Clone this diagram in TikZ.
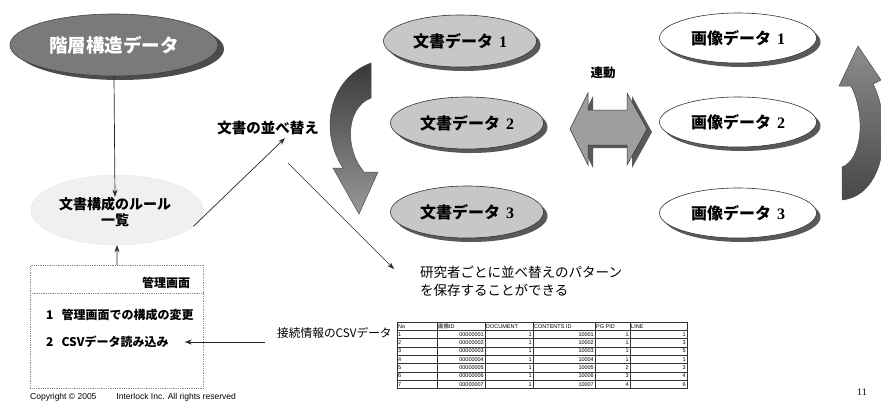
\documentclass[tikz,border=0pt]{standalone}
\usepackage{fontspec}
\setmainfont{Liberation Sans}
\newfontfamily\jp{Noto Sans CJK JP}
\newfontfamily\numfont{Liberation Serif}
\usetikzlibrary{arrows.meta,shapes.geometric,shadows}
\tikzset{
  arr/.style={-{Stealth[length=7pt,width=5pt]}, line width=0.7pt, black!85},
  shad/.style={drop shadow={shadow xshift=4pt, shadow yshift=-4pt, fill=black!65, opacity=1}},
  docell/.style={ellipse, draw=black!80, line width=0.6pt, fill=black!22, minimum width=153pt, minimum height=52pt, inner sep=0pt, shad, font=\jp\bfseries\fontsize{16}{18}\selectfont},
  imgell/.style={ellipse, draw=black!80, line width=0.6pt, fill=white, minimum width=157pt, minimum height=50pt, inner sep=0pt, shad, font=\jp\bfseries\fontsize{16}{18}\selectfont},
  lbl/.style={inner sep=0pt, font=\jp\fontsize{13}{16}\selectfont},
  tcell/.style={inner sep=1pt, font=\fontsize{5.5}{6}\selectfont}
}
\begin{document}
\begin{tikzpicture}[x=1pt,y=-1pt]
\useasboundingbox (0,0) rectangle (881,405);
\clip (0,0) rectangle (881,405);

% hierarchy ellipse
\node[ellipse, draw=black!75, line width=0.6pt, fill=black!52, minimum width=208pt, minimum height=62pt, inner sep=0pt, drop shadow={shadow xshift=6pt, shadow yshift=-4pt, fill=black!70, opacity=1}, text=white, font=\jp\bfseries\fontsize{18.5}{21}\selectfont] (hier) at (114,45) {階層構造データ};

% rule list (faint ellipse)
\node[ellipse, draw=black!20, densely dotted, fill=black!6, minimum width=172pt, minimum height=70pt, inner sep=0pt] (ruleell) at (117,210) {};
\node[lbl, align=center, font=\jp\bfseries\fontsize{14}{16.5}\selectfont] (ruletext) at (115,212) {文書構成のルール\\一覧};

% management box
\node[draw=black!45, densely dotted, line width=0.8pt, minimum width=173pt, minimum height=123pt, anchor=north west, inner sep=0pt] (mgmt) at (30,265) {};
\draw[black!45, densely dotted, line width=0.8pt] (mgmt.north west) ++(0,28) coordinate (hl) -- (hl -| mgmt.east);
\node[lbl, font=\jp\bfseries\fontsize{12}{14}\selectfont] (mgmttitle) at (166,283) {管理画面};
\node[lbl, anchor=west, font=\jp\bfseries\fontsize{12}{14}\selectfont] (item1) at (46,315) {1\hspace{8pt}管理画面での構成の変更};
\node[lbl, anchor=west, font=\jp\bfseries\fontsize{12}{14}\selectfont] (item2) at (46,342) {2\hspace{8pt}CSVデータ読み込み};

% connectors on the left
\draw[arr] (hier.south) -- (ruletext.north);
\draw[arr] (mgmt.north) -- (ruleell.south);

% sort label
\node[lbl, font=\jp\bfseries\fontsize{14.5}{16}\selectfont] (sort) at (268,128) {文書の並べ替え};
\draw[arr] (ruleell.-12) -- ([xshift=17pt,yshift=-3pt]sort.south);

% research text
\node[lbl, align=left, anchor=north west, font=\jp\fontsize{13.5}{18}\selectfont] (research) at (420,266) {研究者ごとに並べ替えのパターン\\を保存することができる};
\coordinate (resstart) at (288,163);
\draw[arr, line width=0.5pt] (resstart) -- ([xshift=-26pt,yshift=-3pt]research.north west);

% document data ellipses
\node[docell] (d1) at (460,41) {文書データ\hspace{6pt}{\numfont\bfseries 1}};
\node[docell] (d2) at (467,123) {文書データ\hspace{6pt}{\numfont\bfseries 2}};
\node[docell] (d3) at (467,212) {文書データ\hspace{6pt}{\numfont\bfseries 3}};

% image data ellipses
\node[imgell] (i1) at (738,38) {画像データ\hspace{6pt}{\numfont\bfseries 1}};
\node[imgell] (i2) at (738,122) {画像データ\hspace{6pt}{\numfont\bfseries 2}};
\node[imgell] (i3) at (738,213) {画像データ\hspace{6pt}{\numfont\bfseries 3}};

% left curved arrow (pointing down)
\draw[black!70, line width=0.5pt, top color=black!78, bottom color=black!40]
  (371,63) -- (371,98) .. controls (345,108) and (345,150) .. (364,172)
  -- (378,172) -- (359,214) -- (333,168) -- (343,168)
  .. controls (318,130) and (330,78) .. (371,63) -- cycle;

% right curved arrow (pointing up)
\draw[black!70, line width=0.5pt, top color=black!45, bottom color=black!72]
  (842,200) -- (842,167) .. controls (862,160) and (866,115) .. (851,86)
  -- (839,86) -- (858,46) -- (881,80) -- (873,84)
  .. controls (892,120) and (888,195) .. (842,200) -- cycle;

% double block arrow (link)
\fill[black!65] ([shift={(5,3)}]570,129) -- ([shift={(5,3)}]588,93) -- ([shift={(5,3)}]588,110) -- ([shift={(5,3)}]627,110) -- ([shift={(5,3)}]627,93) -- ([shift={(5,3)}]647,129) -- ([shift={(5,3)}]627,165) -- ([shift={(5,3)}]627,145) -- ([shift={(5,3)}]588,145) -- ([shift={(5,3)}]588,165) -- cycle;
\draw[black!80, line width=0.5pt, fill=black!38] (570,129) -- (588,93) -- (588,110) -- (627,110) -- (627,93) -- (647,129) -- (627,165) -- (627,145) -- (588,145) -- (588,165) -- cycle;
\node[lbl, font=\jp\bfseries\fontsize{12.5}{14}\selectfont] (link) at (603,73) {連動};

% CSV label and arrow
\node[lbl, anchor=west, font=\jp\fontsize{11.7}{13}\selectfont] (csv) at (277,333) {接続情報のCSVデータ};
\draw[arr] ([xshift=-12pt]csv.west |- item2.east) -- ([xshift=16pt]item2.east);

% table
\foreach \i in {0,...,8} {
  \draw[black!80, line width=0.5pt] (397,322+\i*8.3) -- (687,322+\i*8.3);
}
\foreach \c in {397,437,485,533,595,630,687} {
  \draw[black!80, line width=0.5pt] (\c,322) -- (\c,388.4);
}
\draw[black!80, line width=1pt] (397,322) rectangle (687,388.4);
\node[tcell, anchor=west] (h1) at (397,326.15) {No};
\node[tcell, anchor=west] (h2) at (437,326.15) {{\jp 画像}ID};
\node[tcell, anchor=west] (h3) at (485,326.15) {DOCUMENT};
\node[tcell, anchor=west] (h4) at (533,326.15) {CONTENTS ID};
\node[tcell, anchor=west] (h5) at (595,326.15) {PG PID};
\node[tcell, anchor=west] (h6) at (630,326.15) {LINE};
\foreach \n/\pg/\ln [count=\r] in {1/1/1,2/1/3,3/1/5,4/1/1,5/2/3,6/3/4,7/4/6} {
  \pgfmathsetmacro{\yy}{326.15+\r*8.3}
  \node[tcell, anchor=west] (n\r) at (397,\yy) {\n};
  \node[tcell, anchor=east] (a\r) at (485,\yy) {0000000\n};
  \node[tcell, anchor=east] (b\r) at (533,\yy) {1};
  \node[tcell, anchor=east] (c\r) at (595,\yy) {1000\n};
  \node[tcell, anchor=east] (e\r) at (630,\yy) {\pg};
  \node[tcell, anchor=east] (f\r) at (687,\yy) {\ln};
}

% footer
\node[inner sep=0pt, anchor=west, font=\fontsize{8.5}{10}\selectfont] (copy) at (30,397) {Copyright © 2005\hspace{20pt}Interlock Inc. All rights reserved};
\node[inner sep=0pt, font=\numfont\fontsize{10}{12}\selectfont] (page) at (862,392) {11};
\end{tikzpicture}
\end{document}
